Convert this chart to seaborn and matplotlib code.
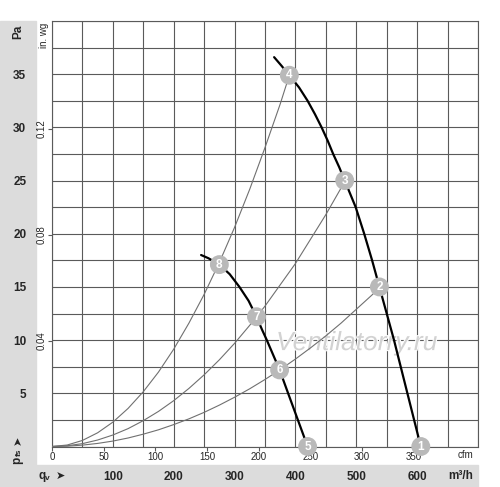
import numpy as np
import matplotlib
matplotlib.use("Agg")
import matplotlib.pyplot as plt
import matplotlib.patheffects as pe
from matplotlib.patches import Rectangle
import seaborn as sns

# fan curves, air flow in m3/h and static pressure in Pa
hi_q = [365, 377, 390, 406, 420, 432, 443, 453, 462, 472, 481, 490, 499, 513, 526, 538, 550, 562, 573, 584, 595, 606]
hi_pa = [36.6, 35.8, 34.9, 33.75, 32.5, 31.25, 30, 28.75, 27.5, 26.25, 25, 23.75, 22.5, 20, 17.5, 15,
         12.5, 10, 7.5, 5, 2.5, 0]
lo_q = [245, 257, 275, 292, 308, 323, 336, 345, 353, 374, 388, 404, 420]
lo_pa = [18.0, 17.7, 17.1, 16.2, 15, 13.7, 12.2, 11, 10, 7.2, 5, 2.5, 0]

# system (resistance) curves
sysA_q = [0, 25, 50, 75, 100, 125, 150, 175, 200, 225, 250, 275, 300, 325, 350, 375, 390]
sysA_pa = [0, 0.14, 0.57, 1.29, 2.29, 3.58, 5.15, 7.0, 9.15, 11.6, 14.3, 17.3, 20.6, 24.2, 28.1, 32.2, 34.9]
sysB_q = [0, 25, 50, 75, 100, 125, 150, 175, 200, 225, 250, 275, 300, 325, 350, 375, 400, 425, 450, 481]
sysB_pa = [0, 0.07, 0.27, 0.61, 1.08, 1.68, 2.43, 3.3, 4.31, 5.46, 6.74, 8.15, 9.7, 11.4, 13.2, 15.2,
           17.2, 19.5, 21.8, 24.9]
sysC_q = [0, 25, 50, 75, 100, 125, 150, 175, 200, 225, 250, 275, 300, 325, 350, 375, 400, 425, 450, 475,
          500, 525, 538]
sysC_pa = [0, 0.03, 0.13, 0.29, 0.51, 0.8, 1.16, 1.57, 2.06, 2.6, 3.21, 3.89, 4.63, 5.43, 6.3, 7.23,
           8.22, 9.28, 10.4, 11.6, 12.9, 14.2, 14.9]

# operating points
op_no = ['1', '2', '3', '4', '5', '6', '7', '8']
op_q = [606, 538, 481, 390, 420, 374, 336, 275]
op_pa = [0, 15, 25, 34.9, 0, 7.2, 12.2, 17.1]

pa_ticks = [5, 10, 15, 20, 25, 30, 35]
m3h_ticks = [100, 200, 300, 400, 500, 600]
cfm_ticks = [0, 50, 100, 150, 200, 250, 300, 350]
inwg_ticks = [0.04, 0.08, 0.12]

sns.set_style("white")
plt.rcParams['font.family'] = ['Liberation Sans', 'DejaVu Sans']

W, H = 500, 487
fx = lambda px: px / W
fy = lambda py: 1 - py / H

fig = plt.figure(figsize=(5, 4.87), dpi=100)
band = '#dcdcdc'
fig.patches.append(Rectangle((0, 0), fx(36), fy(21), transform=fig.transFigure, color=band, zorder=-5))
fig.patches.append(Rectangle((0, 0), fx(478), 22 / H, transform=fig.transFigure, color=band, zorder=-5))

ax = fig.add_axes([fx(52), fy(446.5), 426 / W, 425.5 / H])
ax.set_xlim(0, 700)
ax.set_ylim(0, 40)

gcol = '#5a5a5a'
ax.set_xticks(m3h_ticks)
ax.set_xticks(np.arange(0, 701, 50), minor=True)
ax.set_yticks(pa_ticks)
ax.set_yticks(np.arange(0, 40.1, 2.5), minor=True)
ax.grid(which='both', color=gcol, lw=0.8)
for s in ax.spines.values():
    s.set_color(gcol)
    s.set_linewidth(0.8)
ax.tick_params(which='both', length=0)
ax.tick_params(axis='x', pad=17.5, labelsize=8.5)
ax.tick_params(axis='y', pad=18.5, labelsize=8.5)
for t in ax.get_xticklabels() + ax.get_yticklabels():
    t.set_fontweight('bold')

# cfm and in. wg scales
secx = ax.secondary_xaxis('bottom', functions=(lambda q: q / 1.699, lambda c: c * 1.699))
secx.set_xticks(cfm_ticks)
secx.tick_params(length=3, width=0.8, color=gcol, labelsize=7, pad=1)
secx.spines['bottom'].set_visible(False)

secy = ax.secondary_yaxis('left', functions=(lambda p: p / 249.09, lambda w: w * 249.09))
secy.set_yticks(inwg_ticks)
secy.set_yticklabels([f'{v:.2f}' for v in inwg_ticks], rotation=90, va='center')
secy.tick_params(length=3, width=0.8, color=gcol, labelsize=7, pad=1)
secy.spines['left'].set_visible(False)

# curves
for q, p in [(sysA_q, sysA_pa), (sysB_q, sysB_pa), (sysC_q, sysC_pa)]:
    sns.lineplot(x=q, y=p, ax=ax, color='#707070', lw=0.8, sort=False, estimator=None, zorder=3)
for q, p in [(hi_q, hi_pa), (lo_q, lo_pa)]:
    sns.lineplot(x=q, y=p, ax=ax, color='black', lw=1.6, sort=False, estimator=None, zorder=4)

sns.scatterplot(x=op_q, y=op_pa, ax=ax, s=185, color='#b9b9b9', edgecolor='none', zorder=5, clip_on=False)
for n, q, p in zip(op_no, op_q, op_pa):
    ax.text(q, p, n, color='white', fontsize=8.5, fontweight='bold', ha='center', va='center',
            zorder=6, clip_on=False)

ax.text(0.715, 0.243, 'Ventilatorry.ru', transform=ax.transAxes, fontsize=19, style='italic',
        color='#d2d2d2', ha='center', va='center', zorder=2,
        path_effects=[pe.withStroke(linewidth=1.5, foreground='white')])

# unit labels
fig.text(fx(18), fy(32), 'Pa', rotation=90, fontsize=8.5, fontweight='bold', ha='center', va='center')
fig.text(fx(44), fy(35), 'in. wg', rotation=90, fontsize=7, ha='center', va='center')
fig.text(fx(17), fy(460), 'p', rotation=90, fontsize=8.5, fontweight='bold', ha='center', va='center')
fig.text(fx(19), fy(452), 'fs', rotation=90, fontsize=6, fontweight='bold', ha='center', va='center')
fig.text(fx(18), fy(440), '➤', rotation=90, fontsize=8, ha='center', va='center')
fig.text(fx(466), fy(455), 'cfm', fontsize=7, ha='center', va='center')
fig.text(fx(42), fy(476), 'q', fontsize=8.5, fontweight='bold', ha='center', va='center')
fig.text(fx(47), fy(478), 'v', fontsize=6, fontweight='bold', ha='center', va='center')
fig.text(fx(60), fy(476), '➤', fontsize=8, ha='center', va='center')
fig.text(fx(461), fy(476), 'm³/h', fontsize=8.5, fontweight='bold', ha='center', va='center')

fig.savefig('out.png', dpi=100)
